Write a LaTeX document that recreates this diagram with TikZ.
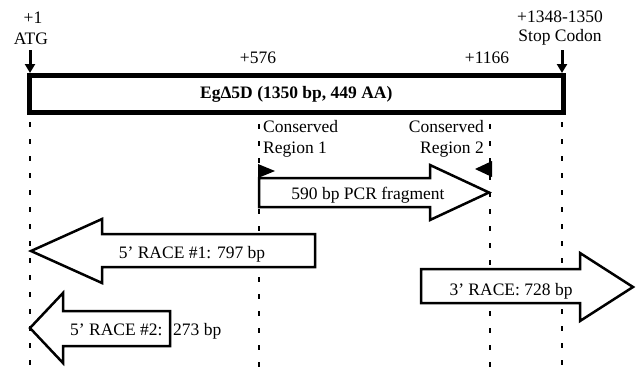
\documentclass[tikz,border=0pt]{standalone}
\usepackage{fontspec}
\setmainfont{Liberation Serif}
\usetikzlibrary{arrows.meta,positioning}

\tikzset{
  lbl/.style={font=\fontsize{17.5}{20}\selectfont, inner sep=0pt},
  guide/.style={line width=2.5pt, dash pattern=on 5pt off 12pt},
  block/.style={draw, line width=2.5pt, fill=white, line join=miter},
  marker/.style={line width=3pt, -{Triangle[width=10pt,length=9pt]}},
}

\begin{document}
\begin{tikzpicture}[x=1pt,y=-1pt]
\useasboundingbox (0,0) rectangle (636,370);

% Guide lines
\draw[guide] (30,122) -- (30,370);
\draw[guide] (259,124) -- (259,370);
\draw[guide] (490,124) -- (490,370);
\draw[guide] (562,122) -- (562,370);

% Gene
\node[draw, line width=5pt, minimum width=533.5pt, minimum height=37pt, inner sep=0pt,
      font=\fontsize{17.5}{20}\selectfont\bfseries] (gene) at (296.25,94) {EgΔ5D (1350 bp, 449 AA)};

% Start and stop
\node[lbl, anchor=base] (plusone) at (33,23) {+1};
\node[lbl, anchor=base] (atg) at (31,44) {ATG};
\node[lbl, anchor=base] (p1348) at (560,22) {+1348-1350};
\node[lbl, anchor=base] (stop) at (560,41) {Stop Codon};
\coordinate (atgtop) at (30,50);
\coordinate (stoptop) at (562,50);
\draw[marker] (atgtop) -- (atgtop |- gene.north);
\draw[marker] (stoptop) -- (stoptop |- gene.north);

% Conserved regions
\node[lbl, anchor=base] (p576) at (258,63) {+576};
\node[lbl, anchor=base] (p1166) at (487,63) {+1166};
\node[lbl, anchor=base west] (cons1) at (263,132) {Conserved};
\node[lbl, anchor=base west] (reg1) at (263,153) {Region 1};
\node[lbl, anchor=base east] (cons2) at (484,132) {Conserved};
\node[lbl, anchor=base east] (reg2) at (484,153) {Region 2};
\fill (258,164) -- (275,171) -- (258,178) -- cycle;
\fill (492,161) -- (475,169) -- (492,177) -- cycle;

% PCR fragment
\draw[block] (259,178) -- (430,178) -- (430,165) -- (489,192.5) -- (430,220) -- (430,207) -- (259,207) -- cycle;
\node[lbl, anchor=base] (pcr) at (368,199) {590 bp PCR fragment};

% 5' RACE #1
\draw[block] (315,234) -- (102,234) -- (102,219) -- (31,251) -- (102,283) -- (102,267) -- (315,267) -- cycle;
\node[lbl, anchor=base] (race1) at (192,258) {5’ RACE \#1: 797 bp};

% 5' RACE #2
\draw[block] (170,311) -- (63,311) -- (63,293) -- (30,328) -- (63,363) -- (63,346) -- (170,346) -- cycle;
\node[lbl, anchor=base west] (race2) at (70,335) {5’ RACE \#2:};
\node[lbl, anchor=base west] (race2bp) at (173,335) {273 bp};

% 3' RACE
\draw[block] (421,269) -- (580,269) -- (580,253) -- (633,287) -- (580,321) -- (580,303) -- (421,303) -- cycle;
\node[lbl, anchor=base] (race3) at (511,295) {3’ RACE: 728 bp};

\end{tikzpicture}
\end{document}
